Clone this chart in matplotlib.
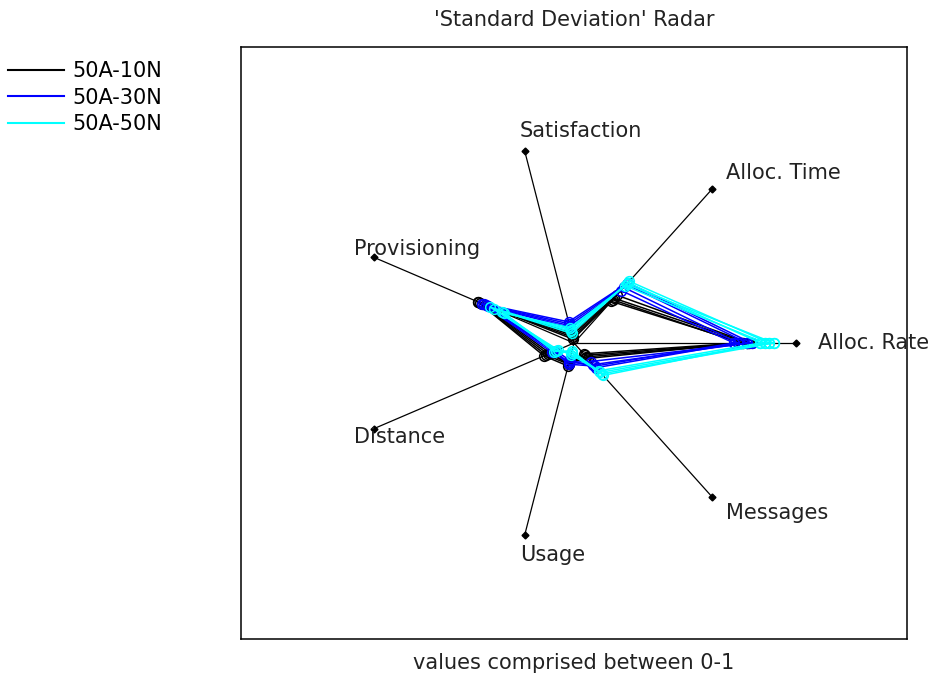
import numpy as np
import matplotlib.pyplot as plt

# axis names, counter-clockwise starting at 0 deg
labels = ["Alloc. Rate", "Alloc. Time", "Satisfaction", "Provisioning",
          "Distance", "Usage", "Messages"]

# several runs per configuration (std dev values, 0-1)
runs_10n = [
    [0.78, 0.29, 0.04, 0.48, 0.14, 0.11, 0.08],
    [0.76, 0.27, 0.03, 0.47, 0.13, 0.10, 0.10],
    [0.79, 0.31, 0.05, 0.46, 0.12, 0.11, 0.09],
    [0.75, 0.28, 0.02, 0.48, 0.15, 0.12, 0.07],
]
runs_30n = [
    [0.78, 0.38, 0.10, 0.45, 0.10, 0.10, 0.14],
    [0.74, 0.36, 0.09, 0.44, 0.09, 0.09, 0.16],
    [0.80, 0.39, 0.11, 0.46, 0.11, 0.10, 0.12],
    [0.72, 0.34, 0.08, 0.43, 0.10, 0.11, 0.15],
]
runs_50n = [
    [0.90, 0.38, 0.07, 0.36, 0.09, 0.05, 0.20],
    [0.88, 0.40, 0.06, 0.42, 0.08, 0.06, 0.19],
    [0.86, 0.37, 0.08, 0.35, 0.10, 0.04, 0.21],
    [0.84, 0.39, 0.05, 0.40, 0.09, 0.05, 0.18],
]
series_names = ["50A-10N", "50A-30N", "50A-50N"]
series_colors = ["black", "blue", "cyan"]

n = len(labels)
theta = 2 * np.pi * np.arange(n) / n

fig = plt.figure(figsize=(9.44, 6.77), dpi=100)
ax = fig.add_axes([241/944, 38/677, 666/944, 592/677])

# spokes with diamond ends
for t, lab in zip(theta, labels):
    ax.plot([0, np.cos(t)], [0, np.sin(t)], color="black", lw=0.9)
    ax.plot(np.cos(t), np.sin(t), "D", color="black", ms=3.5)
    ax.text(1.1 * np.cos(t), 1.1 * np.sin(t), lab, ha="left", va="center",
            fontsize=15, color="#222222")

# polygons
handles = []
for runs, name, col in zip([runs_10n, runs_30n, runs_50n], series_names, series_colors):
    for k, r in enumerate(runs):
        r = np.array(r + [r[0]])
        t = np.append(theta, theta[0])
        h, = ax.plot(r * np.cos(t), r * np.sin(t), "-o", color=col, lw=1.1,
                     ms=7, mfc="none", mew=1.1)
        if k == 0:
            handles.append(h)

ax.set_xlim(-1.5, 1.5)
ax.set_ylim(-1.5, 1.5)
ax.set_xticks([])
ax.set_yticks([])
for s in ax.spines.values():
    s.set_linewidth(1.1)

ax.set_title("'Standard Deviation' Radar", fontsize=15, pad=15, color="#222222")
ax.set_xlabel("values comprised between 0-1", fontsize=15, labelpad=10, color="#222222")

leg = ax.legend(handles, series_names, loc="upper left",
                bbox_to_anchor=(0.008, 0.91), bbox_transform=fig.transFigure,
                frameon=False, fontsize=15, handlelength=2.7, handletextpad=0.4,
                labelspacing=0.32, borderpad=0, borderaxespad=0)
for line in leg.get_lines():
    line.set_marker("")
    line.set_linewidth(1.5)

fig.savefig("out.png", dpi=100)
